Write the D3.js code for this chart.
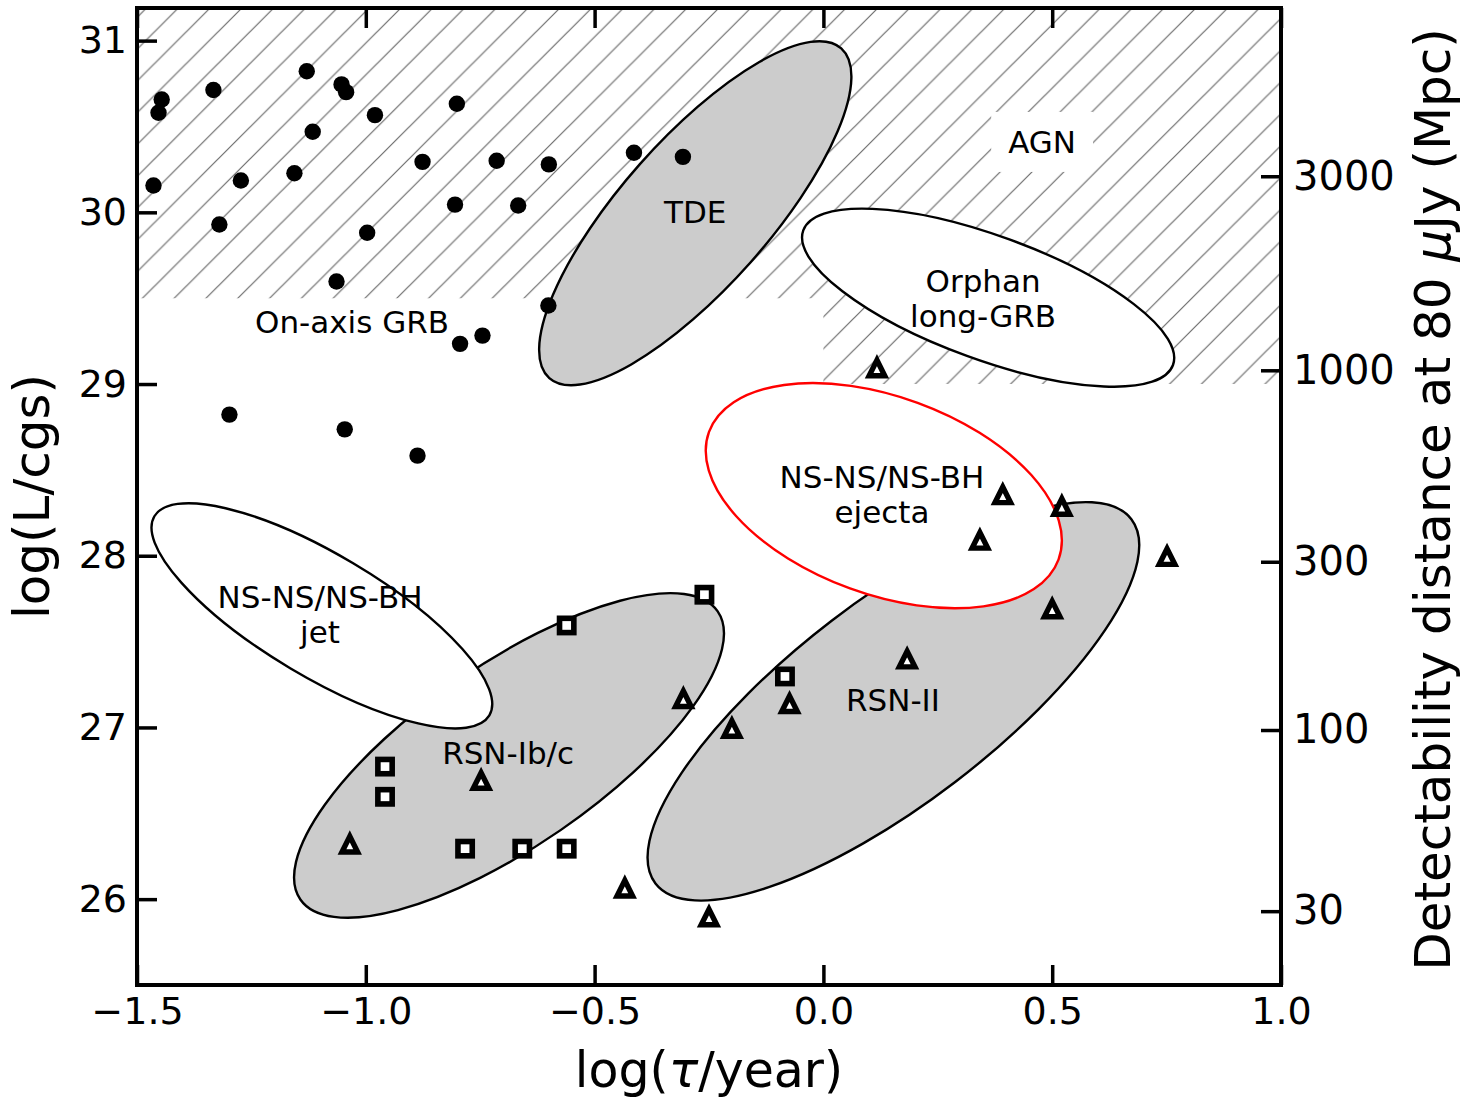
<!DOCTYPE html>
<html>
<head>
<meta charset="utf-8">
<script src="https://cdn.jsdelivr.net/npm/d3@7"></script>
<style>
  body { margin: 0; background: #fff; }
  svg { display: block; font-family: "DejaVu Sans", sans-serif; }
</style>
</head>
<body>
<svg id="chart" width="1470" height="1098"></svg>
<script>
// ---- axis ticks ----
const tauTicks = [-1.5, -1.0, -0.5, 0.0, 0.5, 1.0];
const lumTicks = [26, 27, 28, 29, 30, 31];
// right axis: detectability distance (Mpc) and the log L it corresponds to
const distLabels = ["3000", "1000", "300", "100", "30"];
const distLogL = [30.21, 29.08, 27.965, 26.985, 25.93];

// ---- on-axis GRBs (filled circles) ----
const grbTau = [-1.446, -1.453, -1.333, -1.129, -1.053, -1.043, -0.980, -0.801, -1.116, -1.464,
                -1.273, -1.156, -0.876, -0.714, -0.600, -1.320, -0.805, -0.667, -0.997, -1.064,
                -0.601, -0.414, -0.307, -0.794, -0.745, -1.298, -1.046, -0.887];
const grbLum = [30.657, 30.580, 30.712, 30.822, 30.745, 30.700, 30.566, 30.632, 30.469, 30.156,
                30.185, 30.228, 30.294, 30.300, 30.279, 29.929, 30.045, 30.040, 29.881, 29.597,
                29.457, 30.347, 30.323, 29.234, 29.282, 28.822, 28.736, 28.583];

// ---- radio SNe Ib/c (open squares) ----
const ibcTau = [-0.561, -0.260, -0.958, -0.958, -0.783, -0.658, -0.561, -0.084];
const ibcLum = [27.594, 27.773, 26.772, 26.596, 26.294, 26.294, 26.294, 27.297];

// ---- radio SNe II (open triangles) ----
const snIITau = [0.117, 0.392, 0.521, 0.342, 0.500, 0.751, -0.306, -0.748, -1.035, -0.434,
                 -0.250, -0.200, 0.183, -0.074];
const snIILum = [29.094, 28.355, 28.287, 28.090, 27.690, 27.995, 27.167, 26.691, 26.320, 26.064,
                 25.896, 26.994, 27.398, 27.138];

// ---- source-class regions: centre, major semi-axis (data units), minor/major ratio ----
const regionName    = ["TDE", "RSN-Ib/c", "RSN-II", "Orphan\nlong-GRB", "NS-NS/NS-BH\njet", "NS-NS/NS-BH\nejecta"];
const regionTau     = [-0.280, -0.687, 0.153, 0.360, -1.096, 0.132];
const regionLum     = [29.995, 26.837, 27.152, 29.503, 27.650, 28.350];
const regionAxisTau = [0.319, 0.456, 0.520, 0.404, 0.366, 0.382];
const regionAxisLum = [0.960, 0.839, 1.061, -0.392, -0.580, -0.371];
const regionRatio   = [0.336, 0.358, 0.339, 0.315, 0.314, 0.531];
const regionLabelTau = [-0.280, -0.689, 0.152, 0.349, -1.100, 0.128];
const regionLabelLum = [30.000, 26.850, 27.160, 29.500, 27.655, 28.355];

// AGN zone: floor of the hatched band as a step in log tau
const agnTau   = [-1.5, 0.0, 0.0, 1.0];
const agnFloor = [29.5, 29.5, 29.0, 29.0];
const agnLabel = { tau: 0.478, lum: 30.41 };
const grbLabel = { tau: -1.03, lum: 29.36 };

// ---- styles ----
const regionStyle = {
  "TDE":                { fill: "#cccccc", stroke: "#000" },
  "RSN-Ib/c":           { fill: "#cccccc", stroke: "#000" },
  "RSN-II":             { fill: "#cccccc", stroke: "#000" },
  "Orphan\nlong-GRB":   { fill: "#ffffff", stroke: "#000" },
  "NS-NS/NS-BH\njet":   { fill: "#ffffff", stroke: "#000" },
  "NS-NS/NS-BH\nejecta":{ fill: "#ffffff", stroke: "#ff0000" }
};

const W = 1470, H = 1098;
const plot = { left: 137, right: 1281, top: 8, bottom: 985 };

const x = d3.scaleLinear().domain([-1.5, 1.0]).range([plot.left, plot.right]);
const y = d3.scaleLinear().domain([25.5, 31.19]).range([plot.bottom, plot.top]);

const svg = d3.select("#chart");
const defs = svg.append("defs");

defs.append("clipPath").attr("id", "plotClip")
  .append("rect")
  .attr("x", plot.left).attr("y", plot.top)
  .attr("width", plot.right - plot.left).attr("height", plot.bottom - plot.top);

// diagonal hatch
const hp = 31.8;
const pat = defs.append("pattern").attr("id", "hatch")
  .attr("patternUnits", "userSpaceOnUse")
  .attr("x", 27.3).attr("y", 0)
  .attr("width", hp).attr("height", hp);
pat.append("path")
  .attr("d", `M0,${hp} L${hp},0 M${-hp/2},${hp/2} L${hp/2},${-hp/2} M${hp/2},${1.5*hp} L${1.5*hp},${hp/2}`)
  .attr("stroke", "#6a6a6a").attr("stroke-width", 1.2).attr("fill", "none");

const g = svg.append("g").attr("clip-path", "url(#plotClip)");

// AGN hatched zone
const agnPts = [[agnTau[0], 31.19]];
agnTau.forEach((t, i) => agnPts.push([t, agnFloor[i]]));
agnPts.push([agnTau[agnTau.length - 1], 31.19]);
g.append("path")
  .attr("d", d3.line().x(d => x(d[0])).y(d => y(d[1]))(agnPts) + "Z")
  .attr("fill", "url(#hatch)").attr("stroke", "none");

// AGN label with white box
const agnG = g.append("g");
const agnText = agnG.append("text")
  .attr("x", x(agnLabel.tau)).attr("y", y(agnLabel.lum))
  .attr("text-anchor", "middle").attr("dominant-baseline", "central")
  .attr("font-size", 31).text("AGN");
const bb = agnText.node().getBBox();
agnG.insert("rect", "text")
  .attr("x", bb.x - 17).attr("y", bb.y - 12)
  .attr("width", bb.width + 34).attr("height", bb.height + 24)
  .attr("fill", "#fff");

// regions
regionName.forEach((name, i) => {
  const X = x(regionTau[i]), Y = y(regionLum[i]);
  const vx = x(regionTau[i] + regionAxisTau[i]) - X;
  const vy = y(regionLum[i] + regionAxisLum[i]) - Y;
  const a = Math.hypot(vx, vy);
  const ang = Math.atan2(vy, vx) * 180 / Math.PI;
  const st = regionStyle[name];
  g.append("ellipse")
    .attr("cx", X).attr("cy", Y)
    .attr("rx", a).attr("ry", a * regionRatio[i])
    .attr("transform", `rotate(${ang},${X},${Y})`)
    .attr("fill", st.fill).attr("stroke", st.stroke).attr("stroke-width", 2.4);
});

// markers
g.selectAll("circle.grb").data(grbTau).join("circle")
  .attr("class", "grb")
  .attr("cx", (d, i) => x(grbTau[i])).attr("cy", (d, i) => y(grbLum[i]))
  .attr("r", 8.2).attr("fill", "#000");

const sq = 14.3;
g.selectAll("rect.ibc").data(ibcTau).join("rect")
  .attr("class", "ibc")
  .attr("x", (d, i) => x(ibcTau[i]) - sq / 2).attr("y", (d, i) => y(ibcLum[i]) - sq / 2)
  .attr("width", sq).attr("height", sq)
  .attr("fill", "#fff").attr("stroke", "#000").attr("stroke-width", 5.6)
  .attr("stroke-linejoin", "miter");

const th = 7.8;
const triPath = `M0,${-th} L${-th},${th} L${th},${th} Z`;
g.selectAll("path.snII").data(snIITau).join("path")
  .attr("class", "snII")
  .attr("transform", (d, i) => `translate(${x(snIITau[i])},${y(snIILum[i])})`)
  .attr("d", triPath)
  .attr("fill", "#fff").attr("stroke", "#000").attr("stroke-width", 5.4)
  .attr("stroke-linejoin", "miter");

// region labels
function multiLabel(sel, tau, lum, text) {
  const lines = text.split("\n");
  const lh = 35;
  const t = sel.append("text")
    .attr("text-anchor", "middle").attr("font-size", 31).attr("fill", "#000");
  lines.forEach((ln, k) => {
    t.append("tspan")
      .attr("x", x(tau))
      .attr("y", y(lum) + (k - (lines.length - 1) / 2) * lh)
      .attr("dominant-baseline", "central")
      .text(ln);
  });
}
const labelG = svg.append("g");
regionName.forEach((name, i) => multiLabel(labelG, regionLabelTau[i], regionLabelLum[i], name));
multiLabel(labelG, grbLabel.tau, grbLabel.lum, "On-axis GRB");

// axes
const tickLen = 20;
const axB = svg.append("g").attr("transform", `translate(0,${plot.bottom})`)
  .call(d3.axisBottom(x).tickValues(tauTicks).tickSize(-tickLen).tickPadding(12)
        .tickFormat(d => d3.format(".1f")(d).replace("-", "\u2212")));
const axT = svg.append("g").attr("transform", `translate(0,${plot.top})`)
  .call(d3.axisTop(x).tickValues(tauTicks).tickSize(-tickLen).tickFormat(""));
const axL = svg.append("g").attr("transform", `translate(${plot.left},0)`)
  .call(d3.axisLeft(y).tickValues(lumTicks).tickSize(-tickLen).tickPadding(10).tickFormat(d3.format("d")));
const axR = svg.append("g").attr("transform", `translate(${plot.right},0)`)
  .call(d3.axisRight(y).tickValues(distLogL).tickSize(-tickLen).tickPadding(12)
        .tickFormat((d, i) => distLabels[i]));

[axB, axT, axL, axR].forEach(a => {
  a.select(".domain").remove();
  a.selectAll(".tick line").attr("stroke", "#000").attr("stroke-width", 3.5);
  a.selectAll(".tick text").attr("fill", "#000")
    .attr("font-family", "DejaVu Sans, sans-serif").attr("font-size", 38);
});
axR.selectAll(".tick text").attr("font-size", 40);

// frame
svg.append("rect")
  .attr("x", plot.left).attr("y", plot.top)
  .attr("width", plot.right - plot.left).attr("height", plot.bottom - plot.top)
  .attr("fill", "none").attr("stroke", "#000").attr("stroke-width", 4);

// axis titles
const xt = svg.append("text")
  .attr("x", (plot.left + plot.right) / 2).attr("y", 1087)
  .attr("text-anchor", "middle").attr("font-size", 49);
xt.append("tspan").text("log(");
xt.append("tspan").attr("font-style", "italic").text("\u03c4");
xt.append("tspan").text("/year)");

svg.append("text")
  .attr("transform", `translate(49,${(plot.top + plot.bottom) / 2}) rotate(-90)`)
  .attr("text-anchor", "middle").attr("font-size", 50)
  .text("log(L/cgs)");

const rt = svg.append("text")
  .attr("transform", `translate(1450,${(plot.top + plot.bottom) / 2 + 3}) rotate(-90)`)
  .attr("text-anchor", "middle").attr("font-size", 50);
rt.append("tspan").text("Detectability distance at 80 ");
rt.append("tspan").attr("font-style", "italic").text("\u03bc");
rt.append("tspan").text("Jy (Mpc)");
</script>
</body>
</html>
